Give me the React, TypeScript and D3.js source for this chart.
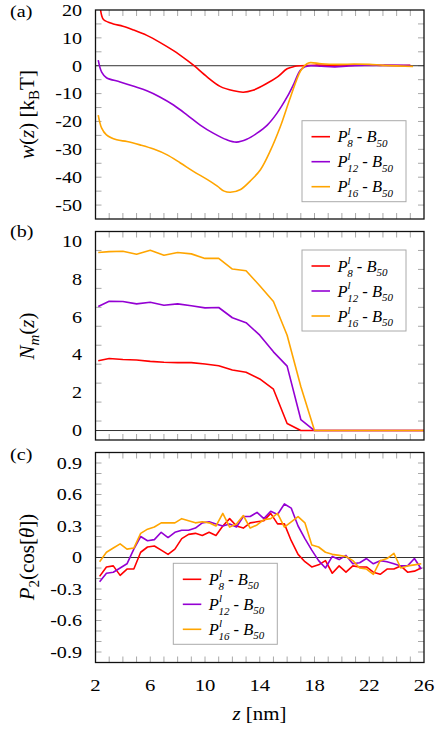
import React from 'react';
import * as d3 from 'd3';

// ---------- Panel (a): w(z) [kBT] ----------
const zA_P8 = [2.3, 2.45, 2.6, 3.3, 4.0, 4.8, 5.75, 6.7, 7.7, 8.7, 9.2, 10.15, 11.1, 12.1, 12.8, 13.5, 14.5, 15.3, 16.0, 16.5, 17.0, 18.0, 20.0, 22.0, 23.0, 25.0];
const wA_P8 = [23, 18, 16.5, 15.0, 14.2, 12.8, 10.9, 8.4, 5.4, 1.9, 0, -4.0, -7.4, -9.0, -9.5, -8.8, -6.4, -4.0, -1.1, -0.3, 0, 0.2, 0.1, 0.3, 0.1, 0.2];
const zA_P12 = [2.2, 2.45, 2.8, 3.8, 4.8, 5.75, 6.7, 7.7, 8.7, 9.65, 10.6, 11.6, 12.3, 13.05, 13.8, 14.55, 15.25, 16.0, 16.5, 16.95, 17.3, 17.7, 18.5, 19.5, 20.5, 22.0, 23.0, 25.0];
const wA_P12 = [2.0, -2.3, -4.3, -5.8, -7.4, -9.0, -11.2, -14.1, -17.7, -21.3, -24.2, -26.6, -27.4, -26.4, -24.2, -21.3, -17.1, -11.2, -6.4, -1.7, -0.4, 0, -0.2, -0.4, -0.1, 0.1, 0.2, 0.1];
const zA_P16 = [2.2, 2.45, 2.8, 3.55, 4.3, 5.25, 6.25, 7.2, 8.2, 9.15, 10.15, 10.9, 11.4, 11.85, 12.6, 13.3, 14.05, 14.8, 15.5, 16.25, 17.0, 17.45, 17.7, 18.5, 19.8, 20.9, 22.0, 23.0, 25.2];
const wA_P16 = [-17.7, -22.4, -24.8, -26.6, -27.2, -28.4, -29.9, -31.9, -34.9, -37.9, -40.8, -43.2, -45.0, -45.4, -44.4, -41.4, -37.3, -30.2, -21.9, -11.2, -1.7, 0.7, 1.1, 0.7, 0.5, 0.6, 0.5, 0.2, -0.3];
const ticksA = [-50, -40, -30, -20, -10, 0, 10, 20];

// ---------- Panel (b): N_m(z) ----------
const zB = [2.2, 3, 4, 5, 6, 7, 8, 9, 10, 11, 12, 13, 14, 15, 16, 17, 18, 19, 20, 21, 22, 23, 24, 25, 26];
const nB_P8 = [3.68, 3.80, 3.75, 3.72, 3.65, 3.60, 3.58, 3.58, 3.51, 3.42, 3.19, 3.07, 2.72, 2.18, 0.37, 0, 0, 0, 0, 0, 0, 0, 0, 0, 0];
const nB_P12 = [6.54, 6.82, 6.81, 6.68, 6.77, 6.61, 6.68, 6.58, 6.47, 6.49, 5.95, 5.69, 5.03, 4.15, 3.40, 0.58, 0, 0, 0, 0, 0, 0, 0, 0, 0];
const nB_P16 = [9.39, 9.44, 9.46, 9.30, 9.51, 9.25, 9.39, 9.32, 9.08, 9.08, 8.52, 8.43, 7.64, 6.81, 5.03, 2.32, 0, 0, 0, 0, 0, 0, 0, 0, 0];
const ticksB = [0, 2, 4, 6, 8, 10];

// ---------- Panel (c): P2(cos[theta]) ----------
const zC = [2.3, 2.8, 3.3, 3.8, 4.3, 4.8, 5.3, 5.8, 6.3, 6.8, 7.3, 7.8, 8.3, 8.8, 9.3, 9.8, 10.3, 10.8, 11.3, 11.8, 12.3, 12.8, 13.3, 13.8, 14.3, 14.8, 15.3, 15.8, 16.3, 16.8, 17.3, 17.8, 18.3, 18.8, 19.3, 19.8, 20.3, 20.8, 21.3, 21.8, 22.3, 22.8, 23.3, 23.8, 24.3, 24.8, 25.3, 25.8];
const pC_P8 = [-0.18, -0.09, -0.08, -0.17, -0.11, -0.11, 0.05, 0.10, 0.11, 0.07, 0.03, 0.08, 0.18, 0.22, 0.23, 0.21, 0.24, 0.21, 0.30, 0.37, 0.30, 0.28, 0.33, 0.34, 0.35, 0.42, 0.32, 0.32, 0.16, 0.03, -0.04, -0.09, -0.07, -0.03, -0.15, -0.08, -0.14, -0.08, -0.09, -0.09, -0.14, -0.16, -0.11, -0.11, -0.08, -0.14, -0.13, -0.10];
const pC_P12 = [-0.23, -0.15, -0.14, -0.10, -0.06, 0.08, 0.20, 0.16, 0.17, 0.24, 0.19, 0.24, 0.26, 0.26, 0.28, 0.33, 0.34, 0.32, 0.30, 0.32, 0.29, 0.39, 0.39, 0.43, 0.37, 0.44, 0.41, 0.51, 0.47, 0.30, 0.18, 0.07, -0.03, -0.10, 0.01, -0.02, 0.02, -0.06, -0.05, -0.01, -0.06, -0.03, -0.04, -0.06, -0.08, -0.08, -0.01, -0.11];
const pC_P16 = [-0.04, 0.05, 0.09, 0.13, 0.08, 0.09, 0.23, 0.27, 0.29, 0.33, 0.33, 0.33, 0.37, 0.35, 0.33, 0.34, 0.33, 0.30, 0.42, 0.29, 0.32, 0.40, 0.28, 0.31, 0.36, 0.37, 0.42, 0.29, 0.34, 0.39, 0.33, 0.12, 0.10, 0.05, 0.03, 0.02, 0.01, -0.03, -0.10, -0.11, -0.16, -0.03, -0.01, 0.04, -0.10, -0.08, -0.07, -0.06];
const ticksC = [-0.9, -0.6, -0.3, 0, 0.3, 0.6, 0.9];

const xTickLabels = [2, 6, 10, 14, 18, 22, 26];
const seriesSubs = ['8', '12', '16'];
const COLORS = ['#ff0000', '#9400d3', '#ffa500'];

const FONT = 'Liberation Serif, Times New Roman, Times, serif';
const X0 = 95.5;
const X1 = 424;
const TICK_COLOR = '#a8a8a8';
const TL = 6;
const STRETCH = 1.22;

const xScale = d3.scaleLinear().domain([2, 26]).range([X0, X1]);

type Series = { xs: number[]; ys: number[] };

function LegendEntry({ x, y, color, sub }: { x: number; y: number; color: string; sub: string }) {
  const tx = x + 26;
  const by = y + 5.5;
  return (
    <g>
      <line x1={x} x2={x + 18.5} y1={y} y2={y} stroke={color} strokeWidth={1.6} />
      <text x={tx} y={by} style={{ fontFamily: FONT }} fontSize={16.5}>
        <tspan fontStyle="italic">P</tspan>
        <tspan fontStyle="italic" fontSize={11} dy={-7.5}>l</tspan>
        <tspan fontStyle="italic" fontSize={11} dx={-3.5} dy={12.5}>{sub}</tspan>
        <tspan dy={-5}>{' - '}</tspan>
        <tspan fontStyle="italic">B</tspan>
        <tspan fontStyle="italic" fontSize={11} dy={4.5}>50</tspan>
      </text>
    </g>
  );
}

function Panel({
  id,
  top,
  bottom,
  yDomain,
  minorStep,
  labelTicks,
  fmt,
  series,
  curve,
  legend,
  showXLabels,
}: {
  id: string;
  top: number;
  bottom: number;
  yDomain: [number, number];
  minorStep: number;
  labelTicks: number[];
  fmt: (v: number) => string;
  series: Series[];
  curve: d3.CurveFactory;
  legend: { x: number; y: number; w: number; h: number };
  showXLabels: boolean;
}) {
  const yScale = d3.scaleLinear().domain(yDomain).range([bottom, top]);
  const line = d3
    .line<[number, number]>()
    .x((d) => xScale(d[0]))
    .y((d) => yScale(d[1]))
    .curve(curve);

  const yMinor: number[] = [];
  const nSteps = Math.round((yDomain[1] - yDomain[0]) / minorStep);
  for (let i = 1; i < nSteps; i++) {
    yMinor.push(Math.round((yDomain[0] + i * minorStep) * 1000) / 1000);
  }
  const xMinor: number[] = [];
  for (let v = 3; v <= 25; v++) xMinor.push(v);

  return (
    <g>
      <defs>
        <clipPath id={`clip-${id}`}>
          <rect x={X0} y={top} width={X1 - X0} height={bottom - top} />
        </clipPath>
      </defs>
      {xMinor.map((v) => (
        <g key={`xt${v}`} stroke={TICK_COLOR} strokeWidth={1}>
          <line x1={xScale(v)} x2={xScale(v)} y1={bottom} y2={bottom - TL} />
          <line x1={xScale(v)} x2={xScale(v)} y1={top} y2={top + TL} />
        </g>
      ))}
      {yMinor.map((v) => (
        <g key={`yt${v}`} stroke={TICK_COLOR} strokeWidth={1}>
          <line x1={X0} x2={X0 + TL} y1={yScale(v)} y2={yScale(v)} />
          <line x1={X1} x2={X1 - TL} y1={yScale(v)} y2={yScale(v)} />
        </g>
      ))}
      <line x1={X0} x2={X1} y1={yScale(0)} y2={yScale(0)} stroke="#333" strokeWidth={1} />
      <g clipPath={`url(#clip-${id})`}>
        {series.map((s, i) => (
          <path
            key={i}
            d={line(s.xs.map((x, j) => [x, s.ys[j]] as [number, number])) || ''}
            fill="none"
            stroke={COLORS[i]}
            strokeWidth={1.6}
            strokeLinejoin="round"
          />
        ))}
      </g>
      <rect x={X0} y={top} width={X1 - X0} height={bottom - top} fill="none" stroke="#111" strokeWidth={1.3} />
      {labelTicks.map((v) => (
        <text
          key={`yl${v}`}
          transform={`translate(82,${yScale(v)}) scale(${STRETCH},1)`}
          dy="0.35em"
          textAnchor="end"
          style={{ fontFamily: FONT }}
          fontSize={16.5}
        >
          {fmt(v)}
        </text>
      ))}
      {showXLabels &&
        xTickLabels.map((v) => (
          <text
            key={`xl${v}`}
            transform={`translate(${xScale(v)},691) scale(${STRETCH},1)`}
            textAnchor="middle"
            style={{ fontFamily: FONT }}
            fontSize={17}
          >
            {v}
          </text>
        ))}
      <rect x={legend.x} y={legend.y} width={legend.w} height={legend.h} fill="#fff" stroke="#aaa" strokeWidth={1} />
      {seriesSubs.map((s, i) => (
        <LegendEntry key={s} x={legend.x + 9.5} y={legend.y + 16 + i * 25} color={COLORS[i]} sub={s} />
      ))}
    </g>
  );
}

export default function App() {
  const fmtInt = (v: number) => String(v);
  const fmtDec = (v: number) => (v === 0 ? '0' : v.toFixed(1));
  return (
    <svg
      width={441}
      height={733}
      viewBox="0 0 441 733"
      style={{ position: 'absolute', left: 0, top: 0, background: '#fff' }}
    >
      <rect x={0} y={0} width={441} height={733} fill="#fff" />
      <Panel
        id="a"
        top={10}
        bottom={219}
        yDomain={[-55, 20]}
        minorStep={5}
        labelTicks={ticksA}
        fmt={fmtInt}
        series={[
          { xs: zA_P8, ys: wA_P8 },
          { xs: zA_P12, ys: wA_P12 },
          { xs: zA_P16, ys: wA_P16 },
        ]}
        curve={d3.curveCatmullRom.alpha(0.5)}
        legend={{ x: 302, y: 120.7, w: 104, h: 81 }}
        showXLabels={false}
      />
      <Panel
        id="b"
        top={231.5}
        bottom={440}
        yDomain={[-0.5, 10.5]}
        minorStep={1}
        labelTicks={ticksB}
        fmt={fmtInt}
        series={[
          { xs: zB, ys: nB_P8 },
          { xs: zB, ys: nB_P12 },
          { xs: zB, ys: nB_P16 },
        ]}
        curve={d3.curveLinear}
        legend={{ x: 302, y: 250, w: 104, h: 81 }}
        showXLabels={false}
      />
      <Panel
        id="c"
        top={452.5}
        bottom={662.5}
        yDomain={[-1, 1]}
        minorStep={0.1}
        labelTicks={ticksC}
        fmt={fmtDec}
        series={[
          { xs: zC, ys: pC_P8 },
          { xs: zC, ys: pC_P12 },
          { xs: zC, ys: pC_P16 },
        ]}
        curve={d3.curveLinear}
        legend={{ x: 173.3, y: 563.3, w: 104, h: 81 }}
        showXLabels={true}
      />
      <text transform={`translate(10,17) scale(${STRETCH},1)`} style={{ fontFamily: FONT }} fontSize={16.5}>(a)</text>
      <text transform={`translate(10,237) scale(${STRETCH},1)`} style={{ fontFamily: FONT }} fontSize={16.5}>(b)</text>
      <text transform={`translate(10,460) scale(${STRETCH},1)`} style={{ fontFamily: FONT }} fontSize={16.5}>(c)</text>
      <text transform="translate(34,114.5) rotate(-90)" textAnchor="middle" style={{ fontFamily: FONT }} fontSize={21}>
        <tspan fontStyle="italic">w</tspan>(<tspan fontStyle="italic">z</tspan>) [k
        <tspan fontSize={15} dy={5}>B</tspan>
        <tspan dy={-5}>T]</tspan>
      </text>
      <text transform="translate(34,336) rotate(-90)" textAnchor="middle" style={{ fontFamily: FONT }} fontSize={21}>
        <tspan fontStyle="italic">N</tspan>
        <tspan fontStyle="italic" fontSize={15} dy={5}>m</tspan>
        <tspan dy={-5}>(</tspan>
        <tspan fontStyle="italic">z</tspan>)
      </text>
      <text transform="translate(34,557) rotate(-90)" textAnchor="middle" style={{ fontFamily: FONT }} fontSize={21}>
        <tspan fontStyle="italic">P</tspan>
        <tspan fontSize={15} dy={5}>2</tspan>
        <tspan dy={-5}>(cos[</tspan>
        <tspan fontStyle="italic">θ</tspan>])
      </text>
      <text transform={`translate(259.5,720) scale(1.1,1)`} textAnchor="middle" style={{ fontFamily: FONT }} fontSize={19}>
        <tspan fontStyle="italic">z</tspan> [nm]
      </text>
    </svg>
  );
}
